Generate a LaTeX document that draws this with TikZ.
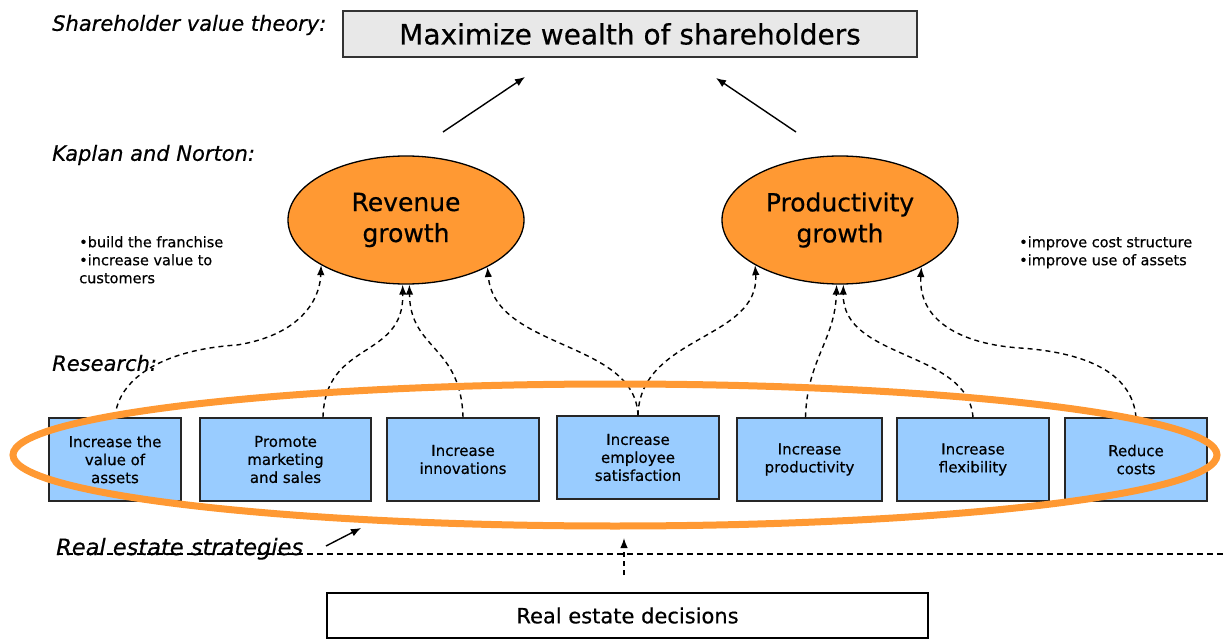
\documentclass[tikz,border=0pt]{standalone}
\usepackage{fontspec}
\setmainfont{DejaVu Sans}[FakeBold=0.5]
\usetikzlibrary{arrows.meta,shapes.geometric,calc}
\definecolor{orng}{HTML}{FF9933}
\definecolor{lblue}{HTML}{99CCFF}
\definecolor{lgray}{HTML}{E8E8E8}
\begin{document}
\begin{tikzpicture}[x=1pt,y=-1pt,
  lbl/.style={font=\fontsize{21}{25}\selectfont\itshape, anchor=west, inner sep=0},
  boxn/.style={draw=black!85, line width=1.4pt, fill=lblue, minimum height=83pt, align=center, font=\fontsize{15}{18}\selectfont, inner sep=0},
  goal/.style={ellipse, draw=black, line width=1.3pt, fill=orng, minimum width=236pt, minimum height=128pt, align=center, font=\fontsize{25}{31}\selectfont, inner sep=0},
  dasharrow/.style={dash pattern=on 5pt off 4pt, line width=1.4pt, -{Latex[length=10pt,width=7.5pt]}},
  solidarrow/.style={line width=1.4pt, -{Latex[length=10pt,width=8pt]}},
  bullets/.style={font=\fontsize{14.5}{18}\selectfont, align=left, anchor=north west, inner sep=0},
  ring/.style={draw=orng, line width=7pt}
]
\useasboundingbox (0,0) rectangle (1224,639);

% top level
\node[lbl] (svt) at (52,25) {Shareholder value theory:};
\node[draw=black!80, line width=1.4pt, fill=lgray, minimum width=574pt, minimum height=46pt, inner sep=0, font=\fontsize{28}{32}\selectfont] (top) at (630,34) {Maximize wealth of shareholders};

% Kaplan and Norton
\node[lbl] (kn) at (52,155) {Kaplan and Norton:};
\node[goal] (rev) at (406,220) {Revenue\\growth};
\node[goal] (prod) at (840,220) {Productivity\\growth};
\node[bullets] (bl) at (79,236) {•build the franchise\\•increase value to\\customers};
\node[bullets] (br) at (1019,236) {•improve cost structure\\•improve use of assets};

\coordinate (ra) at (443,132); \coordinate (rb) at (525,77);
\coordinate (pa) at (796,132); \coordinate (pb) at (716,78);
\draw[solidarrow] (ra) -- (rb);
\draw[solidarrow] (pa) -- (pb);

% research
\node[lbl] (res) at (52,363) {Research:};
\node[boxn, minimum width=132pt] (b1) at (115,459.5) {Increase the\\value of\\assets};
\node[boxn, minimum width=171pt] (b2) at (285.5,459.5) {Promote\\marketing\\and sales};
\node[boxn, minimum width=152pt] (b3) at (463,459.5) {Increase\\innovations};
\node[boxn, minimum width=162pt] (b4) at (638,457.5) {Increase\\employee\\satisfaction};
\node[boxn, minimum width=145pt] (b5) at (809.5,459.5) {Increase\\productivity};
\node[boxn, minimum width=152pt] (b6) at (973,459.5) {Increase\\flexibility};
\node[boxn, minimum width=142pt] (b7) at (1136,459.5) {Reduce\\costs};

% dashed links
\draw[dasharrow] (b1.north) .. controls (118,380) and (160,350) .. (237,345) .. controls (300,335) and (320,300) .. (rev.208);
\draw[dasharrow] ([xshift=37.5pt]b2.north) .. controls (325,340) and (404,360) .. (rev.267);
\draw[dasharrow] (b3.north) .. controls (461,345) and (410,350) .. (rev.273);
\draw[dasharrow] (b4.north) .. controls (635,340) and (495,350) .. (rev.330);
\draw[dasharrow] (b4.north) .. controls (640,335) and (760,340) .. (prod.208);
\draw[dasharrow] ([xshift=-4pt]b5.north) .. controls (807,360) and (835,340) .. (prod.267);
\draw[dasharrow] (b6.north) .. controls (968,350) and (842,360) .. (prod.273);
\draw[dasharrow] (b7.north) .. controls (1132,370) and (1080,352) .. (1020,348) .. controls (960,344) and (918,320) .. (prod.330);

% orange ring
\draw[ring] (615,455) ellipse [x radius=602pt, y radius=71pt];

% real estate strategies
\coordinate (hl1) at (57,554); \coordinate (hl2) at (1224,554);
\draw[dash pattern=on 6pt off 4pt, line width=1.2pt] (hl1) -- (hl2);
\node[font=\fontsize{22.5}{26}\selectfont\itshape, anchor=base west, inner sep=0] (res2) at (56,555) {Real estate strategies};
\coordinate (sa) at (326,546); \coordinate (sb) at (361,528);
\draw[solidarrow] (sa) -- (sb);

% decisions
\node[draw=black, line width=1.3pt, fill=white, minimum width=601pt, minimum height=45pt, inner sep=0, font=\fontsize{21}{25}\selectfont] (red) at (627.5,615.5) {Real estate decisions};
\coordinate (da) at (624,575); \coordinate (db) at (624,538);
\draw[dasharrow] (da) -- (db);
\end{tikzpicture}
\end{document}
